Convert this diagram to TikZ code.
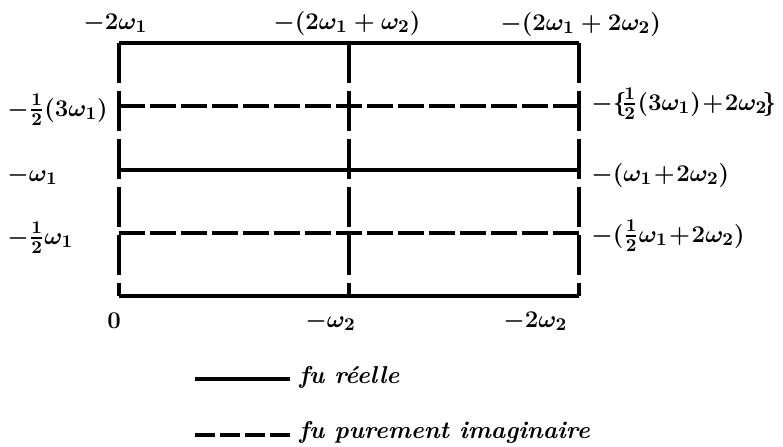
\documentclass[tikz,border=0pt]{standalone}
\usepackage{amsmath,amssymb}
\usepackage{tikz}
\usetikzlibrary{positioning, calc}

\tikzset{
    reel/.style={line width=1.6pt},
    imagh/.style={line width=1.6pt, dash pattern=on 13pt off 2.5pt},
    imagv/.style={line width=1.6pt, dash pattern=on 20pt off 4pt},
    lbl/.style={font=\fontsize{13}{15}\selectfont\boldmath, inner sep=0pt, anchor=base west},
    legtext/.style={font=\fontsize{12.2}{14}\selectfont\bfseries\itshape, inner sep=0pt, anchor=base west}
}

\begin{document}
\begin{tikzpicture}[x=0.5pt, y=-0.5pt]
    \useasboundingbox (0,0) rectangle (783,446);

    % Corners and crossing points of the period rectangle
    \coordinate (TL) at (119,43);   % -2w1
    \coordinate (TM) at (349,43);   % -(2w1+w2)
    \coordinate (TR) at (579,43);   % -(2w1+2w2)
    \coordinate (AL) at (119,106);
    \coordinate (AR) at (579,106);
    \coordinate (BL) at (119,170);
    \coordinate (BR) at (579,170);
    \coordinate (CL) at (119,233);
    \coordinate (CR) at (579,233);
    \coordinate (O)  at (119,296);  % origin
    \coordinate (OM) at (349,296);
    \coordinate (OR) at (579,296);

    % Lines where the function is real
    \draw[reel] (TL) -- (TR);
    \draw[reel] (BL) -- (BR);
    \draw[reel] (O) -- (OR);

    % Lines where it is purely imaginary
    \draw[imagh] (AL) -- (AR);
    \draw[imagh] (CL) -- (CR);
    \draw[imagv] (TL) -- (O);
    \draw[imagv] (TM) -- (OM);
    \draw[imagv] (TR) -- (OR);

    % Top labels
    \node[lbl] (t1) at (83,29)  {$-2\omega_1$};
    \node[lbl] (t2) at (273,29) {$-(2\omega_1+\omega_2)$};
    \node[lbl] (t3) at (500,30) {$-(2\omega_1+2\omega_2)$};

    % Left labels
    \node[lbl] (l1) at (7,116) {$-\frac{1}{2}(3\omega_1)$};
    \node[lbl] (l2) at (7,181) {$-\omega_1$};
    \node[lbl] (l3) at (7,244) {$-\frac{1}{2}\omega_1$};

    % Right labels
    \node[lbl] (r1) at (591,110) {$-\{\!\frac{1}{2}(3\omega_1)\!+\!2\omega_2\!\}$};
    \node[lbl] (r2) at (591,181) {$-(\omega_1\!+\!2\omega_2)$};
    \node[lbl] (r3) at (591,242) {$-(\frac{1}{2}\omega_1\!+\!2\omega_2)$};

    % Bottom labels
    \node[lbl] (b1) at (107,328) {$0$};
    \node[lbl] (b2) at (305,327) {$-\omega_2$};
    \node[lbl] (b3) at (503,327) {$-2\omega_2$};

    % Legend
    \coordinate (s1) at (195,379);
    \coordinate (s2) at (290,379);
    \coordinate (d1) at (195,435);
    \coordinate (d2) at (290,435);
    \draw[line width=1.6pt] (s1) -- (s2);
    \draw[line width=1.6pt, dash pattern=on 10pt off 2.5pt] (d1) -- (d2);
    \node[legtext] (leg1) at (299,383) {fu réelle};
    \node[legtext] (leg2) at (299,438) {fu purement imaginaire};
\end{tikzpicture}
\end{document}
